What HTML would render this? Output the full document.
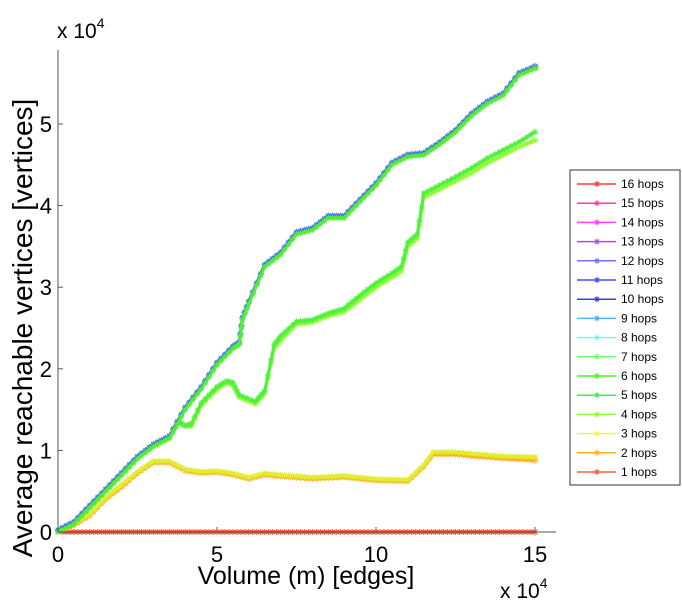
<!DOCTYPE html>
<html><head><meta charset="utf-8"><style>
body{margin:0;background:#fff;font-family:"Liberation Sans",sans-serif}
svg text{font-family:"Liberation Sans",sans-serif;fill:#000}
</style></head><body>
<svg id="chart" width="682" height="600">
<g id="plot"></g>
<g id="axes"></g>
<g id="legend"></g>
</svg>
<script>
// data (x in 1e4 edges, y in 1e4 vertices)
const upperX=[0,0.5,1,1.5,2,2.5,3,3.5,4,4.5,5,5.5,5.7,5.8,6,6.5,7,7.5,8,8.5,9,9.5,10,10.5,11,11.5,12,12.5,13,13.5,14,14.5,15];
const upperY=[0,0.1,0.3,0.5,0.7,0.9,1.05,1.15,1.5,1.75,2.05,2.25,2.3,2.6,2.8,3.25,3.4,3.65,3.7,3.85,3.85,4.05,4.25,4.5,4.6,4.62,4.75,4.9,5.1,5.25,5.35,5.6,5.68];
const lowX=[0,0.5,1,1.5,2,2.5,3,3.5,3.8,4,4.2,4.5,5,5.3,5.5,5.7,6.2,6.5,6.8,7,7.5,8,8.5,9,9.5,10,10.5,10.8,11,11.3,11.5,12,12.5,13,13.5,14,14.5,15];
const low4Y=[0,0.1,0.3,0.5,0.7,0.9,1.05,1.15,1.35,1.3,1.3,1.55,1.75,1.83,1.8,1.65,1.57,1.7,2.25,2.35,2.55,2.57,2.65,2.7,2.85,3.0,3.12,3.2,3.5,3.6,4.1,4.2,4.3,4.4,4.52,4.62,4.72,4.8];
const low5Y=[0,0.1,0.3,0.5,0.7,0.9,1.05,1.15,1.35,1.3,1.33,1.58,1.78,1.85,1.83,1.68,1.6,1.73,2.3,2.4,2.58,2.6,2.68,2.74,2.9,3.05,3.17,3.25,3.55,3.65,4.15,4.25,4.35,4.46,4.58,4.68,4.78,4.9];
const oX=[0,0.5,1,1.5,2,2.5,3,3.5,4,4.5,5,5.5,6,6.5,7,8,9,10,11,11.5,11.8,12.5,13,14,15];
const o2Y=[0,0.08,0.2,0.4,0.55,0.72,0.85,0.85,0.75,0.72,0.73,0.7,0.65,0.7,0.68,0.65,0.67,0.63,0.62,0.8,0.95,0.95,0.93,0.9,0.88];
const o3Y=[0,0.1,0.22,0.42,0.58,0.74,0.87,0.87,0.77,0.74,0.75,0.72,0.67,0.72,0.7,0.67,0.69,0.65,0.64,0.82,0.98,0.98,0.96,0.93,0.92];
const flatX=[0,3,6,9,12,15];const flatY=[0,0,0,0,0,0];
const xTicks=[0,5,10,15];const yTicks=[0,1,2,3,4,5];
const hopLabels=["16 hops","15 hops","14 hops","13 hops","12 hops","11 hops","10 hops","9 hops","8 hops","7 hops","6 hops","5 hops","4 hops","3 hops","2 hops","1 hops"];
const hopColors=["#ff3b3b","#ff3ca8","#ff40ff","#a64cff","#7070ff","#4a4aff","#3a3aff","#50b0ff","#70ffe0","#70ff70","#40ff20","#40f040","#90ff30","#e8ff30","#ffb020","#ff6040"];
const X0=58,X1=556,Y0=532,YT=50,xs=31.8,ys=81.6;
const sx=v=>X0+v*xs, sy=v=>Y0-v*ys;
const NS="http://www.w3.org/2000/svg";
function mk(t,a,p){const e=document.createElementNS(NS,t);for(const k in a)e.setAttribute(k,a[k]);p.appendChild(e);return e;}
const plot=document.getElementById('plot'),axes=document.getElementById('axes'),leg=document.getElementById('legend');
function star(g,x,y,c,s){for(let i=0;i<4;i++){const a=i*Math.PI/4;mk('line',{x1:x-s*Math.cos(a),y1:y-s*Math.sin(a),x2:x+s*Math.cos(a),y2:y+s*Math.sin(a),stroke:c,'stroke-width':1},g);}}
function series(name,xa,ya,c){const g=mk('g',{},plot);


mk('polyline',{points:xa.map((x,i)=>sx(x)+','+sy(ya[i])).join(' '),fill:'none',stroke:c,'stroke-width':3,'stroke-linejoin':'round'},g);
for(let i=0;i<xa.length-1;i++){const n=Math.max(3,Math.round((xa[i+1]-xa[i])*8));for(let k=0;k<n;k++){const t=k/n;star(g,sx(xa[i]+(xa[i+1]-xa[i])*t),sy(ya[i]+(ya[i+1]-ya[i])*t),c,3);}}
star(g,sx(xa[xa.length-1]),sy(ya[ya.length-1]),c,3.5);}
series('series-1-hops',flatX,flatY,'#ff5030');
series('series-2-hops',oX,o2Y,'#ffb020');
series('series-3-hops',oX,o3Y,'#e0ee30');
series('series-4-hops',lowX,low4Y,'#90ff30');
series('series-5-hops',lowX,low5Y,'#50f040');
series('series-9-hops',upperX,upperY.map(v=>v+0.03),'#50b0ff');
series('series-10-hops',upperX,upperY.map(v=>v+0.02),'#5a5aff');
series('series-6-hops',upperX,upperY,'#50f030');
// axes
mk('line',{x1:X0,y1:YT,x2:X0,y2:Y0,stroke:'#555','stroke-width':1},axes);
mk('line',{x1:X0,y1:Y0,x2:X1,y2:Y0,stroke:'#555','stroke-width':1},axes);
xTicks.forEach(v=>{mk('line',{x1:sx(v),y1:Y0,x2:sx(v),y2:Y0-5,stroke:'#555'},axes);const t=mk('text',{x:sx(v),y:Y0+30,'font-size':22,'text-anchor':'middle'},axes);t.textContent=v;

});
yTicks.forEach(v=>{mk('line',{x1:X0,y1:sy(v),x2:X0+5,y2:sy(v),stroke:'#555'},axes);const t=mk('text',{x:X0-6,y:sy(v)+8,'font-size':22,'text-anchor':'end'},axes);t.textContent=v;

});
let t=mk('text',{x:57,y:38,'font-size':21},axes);t.innerHTML='x 10<tspan dy="-10" font-size="14">4</tspan>';

t=mk('text',{x:500,y:598,'font-size':21},axes);t.innerHTML='x 10<tspan dy="-10" font-size="14">4</tspan>';

t=mk('text',{x:306,y:584,'font-size':25,'text-anchor':'middle'},axes);t.textContent='Volume (m) [edges]';

t=mk('text',{x:0,y:0,'font-size':28,'text-anchor':'middle',transform:'translate(32,328) rotate(-90)'},axes);t.textContent='Average reachable vertices [vertices]';

// legend
mk('rect',{x:570,y:170,width:110,height:315,fill:'#fff',stroke:'#333','stroke-width':1},leg);
hopLabels.forEach((l,i)=>{const y=184+i*19.2;const g=mk('g',{},leg);


mk('line',{x1:577,y1:y,x2:616,y2:y,stroke:hopColors[i],'stroke-width':1.5},g);star(g,597,y,hopColors[i],3);
const tx=mk('text',{x:621,y:y+4,'font-size':12},g);tx.textContent=l;});
</script>
</body></html>
